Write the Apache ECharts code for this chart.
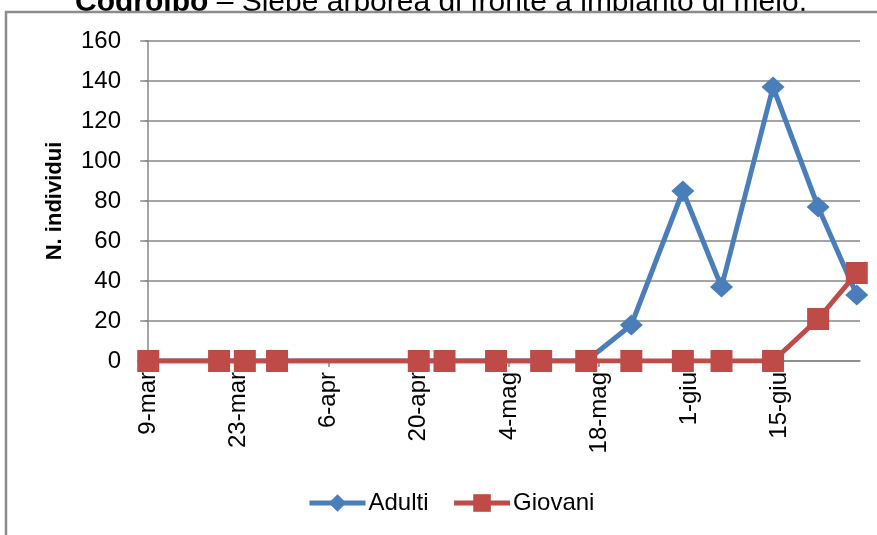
<!DOCTYPE html>
<html>
<head>
<meta charset="utf-8">
<script src="https://cdn.jsdelivr.net/npm/echarts@6/dist/echarts.min.js"></script>
<style>
  html, body { margin: 0; padding: 0; background: #fff; }
  #main { width: 877px; height: 535px; }
</style>
</head>
<body>
<div id="main"></div>
<script>
var chartDom = document.getElementById('main');
var myChart = echarts.init(chartDom);

// date di campionamento
var dates = ['2011-03-09', '2011-03-20', '2011-03-24', '2011-03-29', '2011-04-20', '2011-04-24',
    '2011-05-02', '2011-05-09', '2011-05-16', '2011-05-23', '2011-05-31', '2011-06-06',
    '2011-06-14', '2011-06-21', '2011-06-27'];
var adulti = [0, 0, 0, 0, 0, 0, 0, 0, 0, 18, 85, 37, 137, 77, 33];
var giovani = [0, 0, 0, 0, 0, 0, 0, 0, 0, 0, 0, 0, 0, 21, 44];
// etichette asse x
var tickDates = ['2011-03-09', '2011-03-23', '2011-04-06', '2011-04-20', '2011-05-04',
    '2011-05-18', '2011-06-01', '2011-06-15'];
var mesi = ['gen', 'feb', 'mar', 'apr', 'mag', 'giu', 'lug', 'ago', 'set', 'ott', 'nov', 'dic'];

var blu = '#4a7ebb';
var rosso = '#be4b48';
var grigio = '#868686';
var font = '"Liberation Sans", Arial, sans-serif';

var base = Date.parse(dates[0]);
function dayOf(s) {
    return Math.round((Date.parse(s) - base) / 86400000);
}
function pairs(vals) {
    return dates.map(function (d, i) { return [dayOf(d), vals[i]]; });
}
var tickDays = tickDates.map(dayOf);
var lastDay = dayOf(dates[dates.length - 1]);

option = {
    animation: false,
    textStyle: { fontFamily: font },
    graphic: [
        {   // titolo (tagliato dal bordo)
            type: 'text',
            left: 75,
            top: -12,
            z: -20,
            style: {
                text: '{b|Codroipo} – Siepe arborea di fronte a impianto di melo.',
                fontFamily: font,
                fontSize: 30,
                fill: '#000',
                rich: { b: { fontFamily: font, fontSize: 30, fontWeight: 'bold', fill: '#000' } }
            }
        },
        {   // cornice
            type: 'rect',
            z: -10,
            shape: { x: 6, y: 12, width: 900, height: 600 },
            style: { fill: '#fff', stroke: '#8c8c8c', lineWidth: 2.5 }
        }
    ],
    grid: { left: 145, right: 17, top: 41, bottom: 174 },
    legend: {
        left: 307,
        top: 491,
        padding: 0,
        itemWidth: 56,
        itemHeight: 22,
        itemGap: 23,
        lineStyle: { width: 5 },
        textStyle: { fontSize: 24, color: '#000', fontFamily: font, padding: [0, 0, 0, -2] },
        data: ['Adulti', 'Giovani']
    },
    xAxis: {
        type: 'value',
        min: -0.5,
        max: lastDay + 0.5,
        splitLine: { show: false },
        axisLine: { show: true, lineStyle: { color: grigio, width: 1.5 } },
        axisTick: { show: true, length: 6, lineStyle: { color: grigio, width: 1.5 }, customValues: tickDays },
        axisLabel: {
            customValues: tickDays,
            rotate: 90,
            margin: 11,
            fontSize: 24,
            color: '#000',
            formatter: function (v) {
                var d = new Date(base + v * 86400000);
                return d.getUTCDate() + '-' + mesi[d.getUTCMonth()];
            }
        }
    },
    yAxis: {
        type: 'value',
        min: 0,
        max: 160,
        interval: 20,
        name: 'N. individui',
        nameLocation: 'middle',
        nameRotate: 90,
        nameGap: 79,
        nameTextStyle: { fontSize: 22, fontWeight: 'bold', color: '#000', fontFamily: font },
        axisLine: { show: true, lineStyle: { color: grigio, width: 1.5 } },
        axisTick: { show: true, length: 8, lineStyle: { color: grigio, width: 1.5 } },
        axisLabel: { fontSize: 24, color: '#000', margin: 24 },
        splitLine: { lineStyle: { color: grigio, width: 1.5 } }
    },
    series: [
        {
            name: 'Adulti',
            type: 'line',
            data: pairs(adulti),
            symbol: 'diamond',
            symbolSize: [23, 21],
            showAllSymbol: true,
            itemStyle: { color: blu },
            lineStyle: { color: blu, width: 5 }
        },
        {
            name: 'Giovani',
            type: 'line',
            data: pairs(giovani),
            symbol: 'rect',
            symbolSize: 22,
            showAllSymbol: true,
            itemStyle: { color: rosso },
            lineStyle: { color: rosso, width: 5 }
        }
    ]
};
myChart.setOption(option);
</script>
</body>
</html>
